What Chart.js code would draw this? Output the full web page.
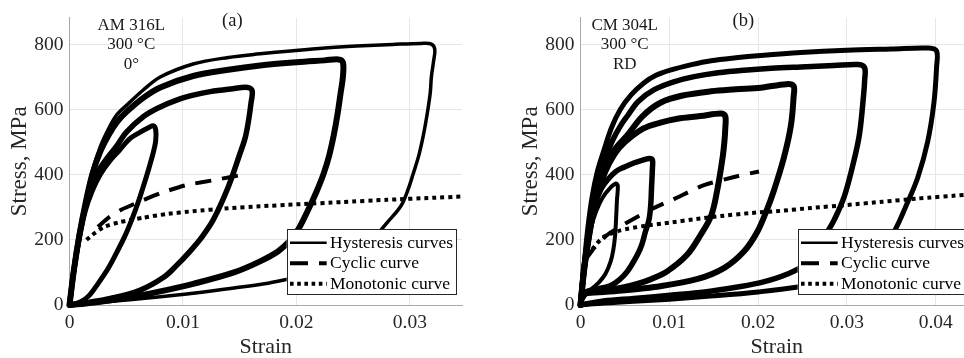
<!DOCTYPE html>
<html><head><meta charset="utf-8">
<script src="https://cdn.jsdelivr.net/npm/chart.js@4.4.1/dist/chart.umd.min.js"></script>
<style>
html,body{margin:0;padding:0;background:#fff;overflow:hidden;width:964px;height:358px;position:relative}
canvas{position:absolute;top:0}
#ca{left:0}
#cb{left:511px}
</style></head><body>
<canvas id="ca" width="482" height="358"></canvas>
<canvas id="cb" width="470" height="358"></canvas>
<script>
// ---------- shared ticks / labels ----------
const stressTicks = [0, 200, 400, 600, 800];
const stressTickLabels = ['0', '200', '400', '600', '800'];
const legendLabels = ['Hysteresis curves', 'Cyclic curve', 'Monotonic curve'];
const xTitle = 'Strain';
const yTitle = 'Stress, MPa';

// ---------- panel (a): AM 316L ----------
const strainTicksA = [0, 0.01, 0.02, 0.03];
const strainTickLabelsA = ['0', '0.01', '0.02', '0.03'];
const annotA = ['AM 316L', '300 °C', '0°'];
const panelLabelA = '(a)';
const loopA1 = [[0,0],[0.0004,110],[0.0009,210],[0.0014,290],[0.0020,350],[0.0027,400],[0.0035,440],[0.0044,475],[0.0053,510],[0.0062,530],[0.0070,545],[0.0074,550],[0.0076,538],[0.0076,505],[0.0074,470],[0.0070,420],[0.0065,363],[0.0060,310],[0.0055,263],[0.0049,213],[0.0042,164],[0.0034,112],[0.0025,65],[0.0017,28],[0.0010,10],[0.0004,3],[0,0]];
const loopA2 = [[0,0],[0.0004,110],[0.0009,220],[0.0014,300],[0.0020,370],[0.0027,420],[0.0034,455],[0.0042,490],[0.0050,530],[0.0065,578],[0.0080,608],[0.0095,630],[0.0110,645],[0.0124,655],[0.0142,663],[0.0157,668],[0.0161,658],[0.0160,620],[0.0158,570],[0.0155,515],[0.0150,462],[0.0140,363],[0.0127,263],[0.0117,210],[0.0106,164],[0.0094,120],[0.0083,85],[0.0062,45],[0.0036,20],[0.0015,7],[0,0]];
const loopA3 = [[0,0],[0.0004,110],[0.0009,220],[0.0014,310],[0.0020,400],[0.0027,470],[0.0035,525],[0.0042,562],[0.0050,592],[0.0065,636],[0.0080,668],[0.0109,703],[0.0140,722],[0.0168,735],[0.0200,745],[0.0225,751],[0.0237,754],[0.0241,745],[0.0241,700],[0.0239,651],[0.0236,580],[0.0233,522],[0.0229,460],[0.0224,403],[0.0218,350],[0.0212,304],[0.0202,234],[0.0195,200],[0.0184,165],[0.0168,134],[0.0145,100],[0.0109,65],[0.0080,42],[0.0050,22],[0.0020,7],[0,0]];
const loopA4 = [[0,0],[0.0004,110],[0.0009,230],[0.0014,320],[0.0020,410],[0.0027,485],[0.0035,545],[0.0042,585],[0.0050,612],[0.0065,660],[0.0080,700],[0.0109,740],[0.0140,760],[0.0168,771],[0.0195,780],[0.0225,789],[0.0253,795],[0.0285,800],[0.0310,803],[0.0319,801],[0.0322,785],[0.0321,750],[0.0319,700],[0.0318,651],[0.0315,580],[0.0312,522],[0.0308,460],[0.0303,403],[0.0298,350],[0.0292,303],[0.0280,253],[0.0267,200],[0.0255,160],[0.0240,125],[0.0220,100],[0.0203,87],[0.0175,67],[0.0145,52],[0.0109,36],[0.0071,22],[0.0040,12],[0.0015,4],[0,0]];
const cyclicA = [[0.0025,240],[0.0035,270],[0.0046,293],[0.0059,313],[0.0080,343],[0.0103,368],[0.0130,385],[0.0157,403]];
const monoA = [[0.0015,200],[0.0020,215],[0.0030,239],[0.0045,255],[0.0065,268],[0.0085,279],[0.0109,288],[0.0140,297],[0.0168,303],[0.0200,309],[0.0240,316],[0.0280,323],[0.0320,329],[0.0346,333]];

// ---------- panel (b): CM 304L ----------
const strainTicksB = [0, 0.01, 0.02, 0.03, 0.04];
const strainTickLabelsB = ['0', '0.01', '0.02', '0.03', '0.04'];
const annotB = ['CM 304L', '300 °C', 'RD'];
const panelLabelB = '(b)';
const loopB1 = [[0,0],[0.0003,100],[0.0007,180],[0.0012,240],[0.0018,290],[0.0025,330],[0.0033,358],[0.0040,373],[0.0042,365],[0.0041,320],[0.0040,260],[0.0039,214],[0.0037,170],[0.0034,134],[0.0028,95],[0.0021,70],[0.0015,55],[0.0008,38],[0.0003,20],[0,0]];
const loopB2 = [[0,0],[0.0004,110],[0.0009,200],[0.0013,260],[0.0017,313],[0.0023,355],[0.0030,383],[0.0040,410],[0.0049,423],[0.0060,436],[0.0070,445],[0.0078,450],[0.0081,445],[0.0081,420],[0.0080,360],[0.0079,303],[0.0077,260],[0.0073,224],[0.0069,185],[0.0064,154],[0.0053,104],[0.0044,78],[0.0034,60],[0.0020,50],[0.0011,45],[0.0004,38]];
const loopB3 = [[0,0],[0.0004,105],[0.0009,200],[0.0014,280],[0.0020,345],[0.0028,410],[0.0038,462],[0.0050,500],[0.0071,542],[0.0090,560],[0.0109,572],[0.0135,580],[0.0158,588],[0.0163,580],[0.0163,540],[0.0162,500],[0.0160,452],[0.0154,353],[0.0147,273],[0.0135,214],[0.0120,154],[0.0098,104],[0.0080,80],[0.0064,65],[0.0045,52],[0.0026,45],[0.0005,38]];
const loopB4 = [[0,0],[0.0004,110],[0.0009,210],[0.0014,295],[0.0020,360],[0.0028,420],[0.0038,475],[0.0053,522],[0.0070,580],[0.0090,621],[0.0115,643],[0.0147,656],[0.0175,662],[0.0203,667],[0.0232,678],[0.0240,672],[0.0240,640],[0.0237,552],[0.0229,452],[0.0218,353],[0.0210,293],[0.0199,224],[0.0184,164],[0.0162,114],[0.0132,80],[0.0083,55],[0.0050,45],[0.0026,40],[0.0005,36]];
const loopB5 = [[0,0],[0.0004,115],[0.0009,220],[0.0014,310],[0.0020,385],[0.0028,450],[0.0036,505],[0.0045,550],[0.0053,581],[0.0065,625],[0.0083,661],[0.0105,685],[0.0128,701],[0.0155,713],[0.0184,721],[0.0215,727],[0.0248,731],[0.0285,735],[0.0313,738],[0.0320,728],[0.0320,690],[0.0319,651],[0.0314,522],[0.0306,422],[0.0297,333],[0.0286,263],[0.0278,224],[0.0268,175],[0.0259,134],[0.0233,95],[0.0205,70],[0.0177,55],[0.0140,40],[0.0101,30],[0.0060,20],[0.0026,12],[0,0]];
const loopB6 = [[0,0],[0.0004,120],[0.0008,230],[0.0013,330],[0.0019,410],[0.0026,472],[0.0035,545],[0.0045,601],[0.0057,645],[0.0071,681],[0.0085,705],[0.0101,721],[0.0125,738],[0.0147,750],[0.0175,759],[0.0203,766],[0.0248,775],[0.0300,782],[0.0350,786],[0.0392,789],[0.0401,780],[0.0401,731],[0.0398,621],[0.0391,502],[0.0380,393],[0.0368,313],[0.0353,224],[0.0340,175],[0.0325,135],[0.0300,95],[0.0270,70],[0.0245,55],[0.0200,40],[0.0150,28],[0.0100,18],[0.0050,10],[0.0015,4],[0,0]];
const cyclicB = [[0.0006,140],[0.0015,174],[0.0030,215],[0.0049,248],[0.0079,293],[0.0105,325],[0.0139,368],[0.0173,393],[0.0201,410]];
const monoB = [[0.0002,104],[0.0008,150],[0.0017,184],[0.0026,209],[0.0045,229],[0.0070,242],[0.0101,253],[0.0130,264],[0.0158,273],[0.0190,282],[0.0225,289],[0.0260,298],[0.0300,307],[0.0340,317],[0.0380,327],[0.0433,338],[0.0445,340]];

// ---------- rendering ----------
const FONT = "'Liberation Serif','Times New Roman',serif";
const TXT = '#262626';
function pts(arr){ return arr.map(p => ({x: p[0], y: p[1]})); }
function lineDs(arr, w, dash){
  return {data: pts(arr), borderColor: '#000', backgroundColor: '#000', borderWidth: w, showLine: true,
    pointRadius: 0, pointHoverRadius: 0, tension: dash ? 0.2 : 0.35, fill: false,
    borderDash: dash || [], borderCapStyle: dash ? 'butt' : 'round', borderJoinStyle: 'round', clip: 6};
}

const boxLegend = {
  id: 'boxLegend',
  afterDatasetsDraw(chart){
    const ca = chart.chartArea, ctx = chart.ctx;
    const w = 169.3, h = 65.4;
    const r = ca.right - 6, b = ca.bottom - 10.3, l = r - w, t = b - h;
    const rows = [13.5, 34, 54.5];
    const dashes = [[], [18, 11], [3.6, 3.6]];
    const widths = [2.6, 4, 4];
    ctx.save();
    ctx.fillStyle = '#fff'; ctx.fillRect(l, t, w, h);
    ctx.strokeStyle = '#262626'; ctx.lineWidth = 1; ctx.setLineDash([]);
    ctx.strokeRect(Math.round(l) + 0.5, Math.round(t) + 0.5, Math.round(w), Math.round(h));
    legendLabels.forEach((lab, i) => {
      const y = t + rows[i];
      ctx.beginPath(); ctx.setLineDash(dashes[i]); ctx.lineWidth = widths[i]; ctx.strokeStyle = '#000';
      ctx.lineCap = 'butt';
      ctx.moveTo(l + 3.3, y); ctx.lineTo(l + 40, y); ctx.stroke();
      ctx.setLineDash([]);
      ctx.fillStyle = '#000'; ctx.font = '17.5px ' + FONT; ctx.textBaseline = 'middle'; ctx.textAlign = 'left';
      ctx.fillText(lab, l + 43.3, y + 0.5);
    });
    ctx.restore();
  }
};

const annotPlugin = {
  id: 'annotText',
  afterDraw(chart, args, opts){
    const ca = chart.chartArea, ctx = chart.ctx;
    ctx.save();
    ctx.fillStyle = '#1a1a1a'; ctx.textAlign = 'center'; ctx.textBaseline = 'middle';
    ctx.font = '17px ' + FONT;
    opts.lines.forEach((s, i) => ctx.fillText(s, ca.left + opts.dx, 25.5 + i * 19.3));
    ctx.font = '18.5px ' + FONT;
    ctx.fillText(opts.label, ca.left + 162.8, 21);
    ctx.restore();
  }
};

function makeChart(id, datasets, xMax, xTicks, xLabels, padRight, annot, annotDx, label){
  return new Chart(document.getElementById(id), {
    type: 'scatter',
    data: {datasets},
    options: {
      responsive: false, animation: false, devicePixelRatio: 1, events: [],
      layout: {padding: {left: 0, right: padRight, top: 9, bottom: 0}},
      plugins: {legend: {display: false}, tooltip: {enabled: false},
        annotText: {lines: annot, dx: annotDx, label: label}},
      scales: {
        x: {type: 'linear', min: 0, max: xMax,
          afterFit(s){ s.height = 53; },
          afterBuildTicks(s){ s.ticks = xTicks.map(v => ({value: v})); },
          ticks: {callback: (v, i) => xLabels[i], font: {family: FONT, size: 19.5}, color: TXT, padding: 6, maxRotation: 0, autoSkip: false},
          grid: {color: '#e6e6e6', drawTicks: false, lineWidth: 1},
          border: {display: true, color: '#a8a8a8', width: 1},
          title: {display: true, text: xTitle, font: {family: FONT, size: 22, lineHeight: 1}, color: TXT, padding: {top: 0, bottom: 0}}
        },
        y: {type: 'linear', min: 0, max: 882,
          afterFit(s){ s.width = 69.5; },
          afterBuildTicks(s){ s.ticks = stressTicks.map(v => ({value: v})); },
          ticks: {callback: (v, i) => stressTickLabels[i], font: {family: FONT, size: 19.5}, color: TXT, padding: 6, autoSkip: false},
          grid: {color: '#e6e6e6', drawTicks: false, lineWidth: 1},
          border: {display: true, color: '#a8a8a8', width: 1},
          title: {display: true, text: yTitle, font: {family: FONT, size: 23, lineHeight: 1}, color: TXT, padding: {top: 8.5, bottom: 0}}
        }
      }
    },
    plugins: [boxLegend, annotPlugin]
  });
}

makeChart('ca', [
  lineDs(loopA1, 5), lineDs(loopA2, 5.5), lineDs(loopA3, 6), lineDs(loopA4, 3.5),
  lineDs(cyclicA, 4, [16, 11]), lineDs(monoA, 4, [4, 4])
], 0.0346, strainTicksA, strainTickLabelsA, 20, annotA, 61.8, panelLabelA);

makeChart('cb', [
  lineDs(loopB1, 4), lineDs(loopB2, 5.5), lineDs(loopB3, 6), lineDs(loopB4, 6), lineDs(loopB5, 5.5), lineDs(loopB6, 5),
  lineDs(cyclicB, 4, [16, 11]), lineDs(monoB, 4, [4, 4])
], 0.0442, strainTicksB, strainTickLabelsB, 8, annotB, 44.2, panelLabelB);
</script>
</body></html>
